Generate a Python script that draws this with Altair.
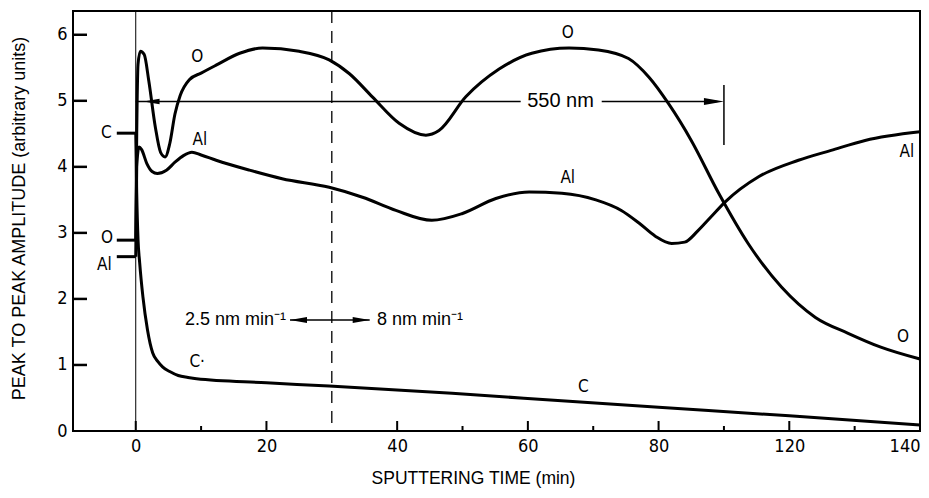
import altair as alt
import pandas as pd

# ---------------- data ----------------
O_t = [0.0, 0.15, 0.35, 0.7, 1.3, 2.0, 3.0, 3.8, 4.5, 5.2, 6.0, 6.8, 8.2, 10.0, 12.3, 15.9, 19.4, 25.0,
       29.6, 32.7, 36.2, 40.3, 44.4, 46.4, 50.5, 55.6, 60.6, 66.3, 70.8, 75.4, 78.5, 81.5, 85.0, 89.2,
       93.7, 98.8, 104.0, 109.0, 114.0, 120.0]
O_v = [2.89, 4.5, 5.55, 5.75, 5.7, 5.3, 4.6, 4.22, 4.15, 4.35, 4.8, 5.08, 5.32, 5.42, 5.54, 5.72, 5.80, 5.75,
       5.62, 5.41, 5.06, 4.66, 4.48, 4.55, 5.06, 5.48, 5.72, 5.80, 5.77, 5.64, 5.36, 4.96, 4.40, 3.60,
       2.84, 2.18, 1.72, 1.48, 1.27, 1.09]

Al_t = [0.0, 0.15, 0.5, 0.9, 1.7, 2.5, 3.3, 4.7, 6.0, 7.3, 8.6, 10.0, 12.3, 17.4, 22.4, 29.6, 34.7, 39.8,
        45.3, 49.9, 55.1, 60.2, 65.2, 70.4, 74.3, 77.0, 79.5, 82.0, 84.0, 86.0, 88.0, 90.2, 95.3, 101.4,
        106.4, 111.6, 120.0]
Al_v = [2.64, 4.0, 4.3, 4.26, 4.05, 3.93, 3.9, 3.95, 4.07, 4.17, 4.22, 4.18, 4.1, 3.95, 3.82, 3.69, 3.54, 3.34,
        3.19, 3.29, 3.52, 3.62, 3.6, 3.5, 3.34, 3.15, 2.95, 2.84, 2.86, 3.03, 3.24, 3.47, 3.85, 4.1,
        4.25, 4.4, 4.53]

C_t = [0.0, 0.15, 0.35, 0.6, 1.1, 1.8, 2.6, 3.4, 4.1, 5.2, 6.5, 8.0, 9.3, 20.0, 29.6, 48.4, 66.3, 80.0,
       100.0, 120.0]
C_v = [4.52, 3.6, 2.9, 2.55, 2.03, 1.53, 1.18, 1.05, 0.97, 0.9, 0.84, 0.81, 0.79, 0.73, 0.68, 0.57, 0.45, 0.36,
       0.23, 0.09]

# tick values and printed labels (the printed figure labels the 100 / 120 ticks "120" / "140")
x_major = [0, 20, 40, 60, 80, 100, 120]
x_minor = [10, 50, 70, 90, 110]
y_major = [1, 2, 3, 4, 5, 6]

# element labels next to the curves
lab_x = [9.4, 9.8, 66.1, 66.1, 118.0, 117.4, 9.4, 68.5, -4.5, -4.4, -4.8]
lab_y = [5.66, 4.40, 6.03, 3.83, 4.22, 1.42, 1.04, 0.66, 4.51, 2.93, 2.51]
lab_t = ["O", "Al", "O", "Al", "Al", "O", "C\u00b7", "C", "C", "O", "Al"]

# initial-value markers on the left
mark_y = [4.51, 2.89, 2.64]

# annotation segments
seg_x1 = [0.0, 71.3, 90.0, 23.6]
seg_x2 = [58.9, 89.0, 90.0, 35.8]
seg_y1 = [4.99, 4.99, 4.33, 1.68]
seg_y2 = [4.99, 4.99, 5.24, 1.68]

rate_left_text = "2.5 nm min\u207b\u00b9"
rate_right_text = "8 nm min\u207b\u00b9"
span_text = "550 nm"

# ---------------- tables ----------------
rows = []
for t, v in zip(O_t, O_v):
    rows.append({"t": t, "v": v, "el": "O"})
for t, v in zip(Al_t, Al_v):
    rows.append({"t": t, "v": v, "el": "Al"})
for t, v in zip(C_t, C_v):
    rows.append({"t": t, "v": v, "el": "C"})
curves = pd.DataFrame(rows)

XS = alt.Scale(domain=[-9.6, 120], nice=False, zero=False)
YS = alt.Scale(domain=[0, 6.36], nice=False, zero=False)

NARROW = "Liberation Sans Narrow, DejaVu Sans Condensed, sans-serif"
REG = "Liberation Sans, Arial, sans-serif"

x_axis = alt.Axis(
    values=x_major, grid=False, domain=False, ticks=False, tickSize=0,
    labelExpr="datum.value == 100 ? '120' : datum.value == 120 ? '140' : datum.label",
    labelFont=NARROW, labelFontSize=18, labelColor="black", labelPadding=6, labelFlush=True,
    title="SPUTTERING TIME (min)", titleFont=REG, titleFontSize=17.5, titleFontWeight="normal",
    titleColor="black", titleX=400, titleY=47, titleBaseline="middle", titleAlign="center",
)
y_axis = alt.Axis(
    values=[0, 1, 2, 3, 4, 5, 6], grid=False, domain=False, ticks=False, tickSize=0,
    labelFont=NARROW, labelFontSize=18, labelColor="black", labelPadding=6,
    title="PEAK TO PEAK AMPLITUDE (arbitrary units)", titleFont=REG, titleFontSize=18,
    titleFontWeight="normal", titleColor="black", titleX=-54, titleY=207, titleAngle=270,
    titleBaseline="middle", titleAlign="center",
)


def X(field):
    return alt.X(field, scale=XS, axis=x_axis)


def Y(field):
    return alt.Y(field, scale=YS, axis=y_axis)


lines = alt.Chart(curves).mark_line(color="black", strokeWidth=3, interpolate="monotone").encode(
    x=X("t:Q"), y=Y("v:Q"), detail="el:N",
)

# vertical solid line at t = 0 and dashed line at t = 30
vline0 = alt.Chart(pd.DataFrame({"t": [0.0]})).mark_rule(color="black", strokeWidth=1).encode(x=X("t:Q"))
vdash = alt.Chart(pd.DataFrame({"t": [30.0]})).mark_rule(
    color="black", strokeWidth=1.3, strokeDash=[12, 8]).encode(x=X("t:Q"))

# inward ticks
yticks = alt.Chart(pd.DataFrame({"v": y_major})).mark_rule(color="black", strokeWidth=2.5).encode(
    y=Y("v:Q"), x=alt.value(0), x2=alt.value(14))
xticks = alt.Chart(pd.DataFrame({"t": x_major[:-1]})).mark_rule(color="black", strokeWidth=2).encode(
    x=X("t:Q"), y=alt.value(420), y2=alt.value(410))
xminor = alt.Chart(pd.DataFrame({"t": x_minor})).mark_rule(color="black", strokeWidth=2).encode(
    x=X("t:Q"), y=alt.value(420), y2=alt.value(415))

# initial value markers on the left
mk = alt.Chart(pd.DataFrame({"v": mark_y, "a": [-2.9] * 3, "b": [0.0] * 3})).mark_rule(
    color="black", strokeWidth=3).encode(x=X("a:Q"), x2="b:Q", y=Y("v:Q"))

segs = alt.Chart(pd.DataFrame({"x1": seg_x1, "x2": seg_x2, "y1": seg_y1, "y2": seg_y2})).mark_rule(
    color="black", strokeWidth=1.5).encode(x=X("x1:Q"), x2="x2:Q", y=Y("y1:Q"), y2="y2:Q")

RIGHT = "M 0 0 L -2 -0.35 L -2 0.35 Z"
LEFT = "M 0 0 L 2 -0.35 L 2 0.35 Z"


def head(xs, ys, shape, length):
    return alt.Chart(pd.DataFrame({"x": xs, "y": ys})).mark_point(
        shape=shape, filled=True, color="black", opacity=1, size=length * length, strokeWidth=0).encode(
        x=X("x:Q"), y=Y("y:Q"))


heads = [
    head([90.0], [4.99], RIGHT, 20),
    head([1.2], [4.99], LEFT, 16),
    head([35.8], [1.68], RIGHT, 17),
    head([23.6], [1.68], LEFT, 17),
]

labels = alt.Chart(pd.DataFrame({"x": lab_x, "y": lab_y, "s": lab_t})).mark_text(
    font=NARROW, fontSize=17, color="black", align="center", baseline="middle").encode(
    x=X("x:Q"), y=Y("y:Q"), text="s:N")

t550 = alt.Chart(pd.DataFrame({"x": [65.0], "y": [4.99], "s": [span_text]})).mark_text(
    font=REG, fontSize=20, color="black", align="center", baseline="middle").encode(
    x=X("x:Q"), y=Y("y:Q"), text="s:N")
trl = alt.Chart(pd.DataFrame({"x": [23.0], "y": [1.68], "s": [rate_left_text]})).mark_text(
    font=REG, fontSize=18, color="black", align="right", baseline="middle").encode(
    x=X("x:Q"), y=Y("y:Q"), text="s:N")
trr = alt.Chart(pd.DataFrame({"x": [36.9], "y": [1.68], "s": [rate_right_text]})).mark_text(
    font=REG, fontSize=18, color="black", align="left", baseline="middle").encode(
    x=X("x:Q"), y=Y("y:Q"), text="s:N")

chart = alt.layer(
    lines, vline0, vdash, yticks, xticks, xminor, mk, segs, *heads, labels, t550, trl, trr
).properties(
    width=847, height=420,
    background="white",
    autosize=alt.AutoSizeParams(type="none"),
    padding={"left": 65, "top": 3, "right": 1, "bottom": 59},
).configure_view(stroke="black", strokeWidth=2)

chart.save("out.html", embed_options={"renderer": "svg", "actions": False})
